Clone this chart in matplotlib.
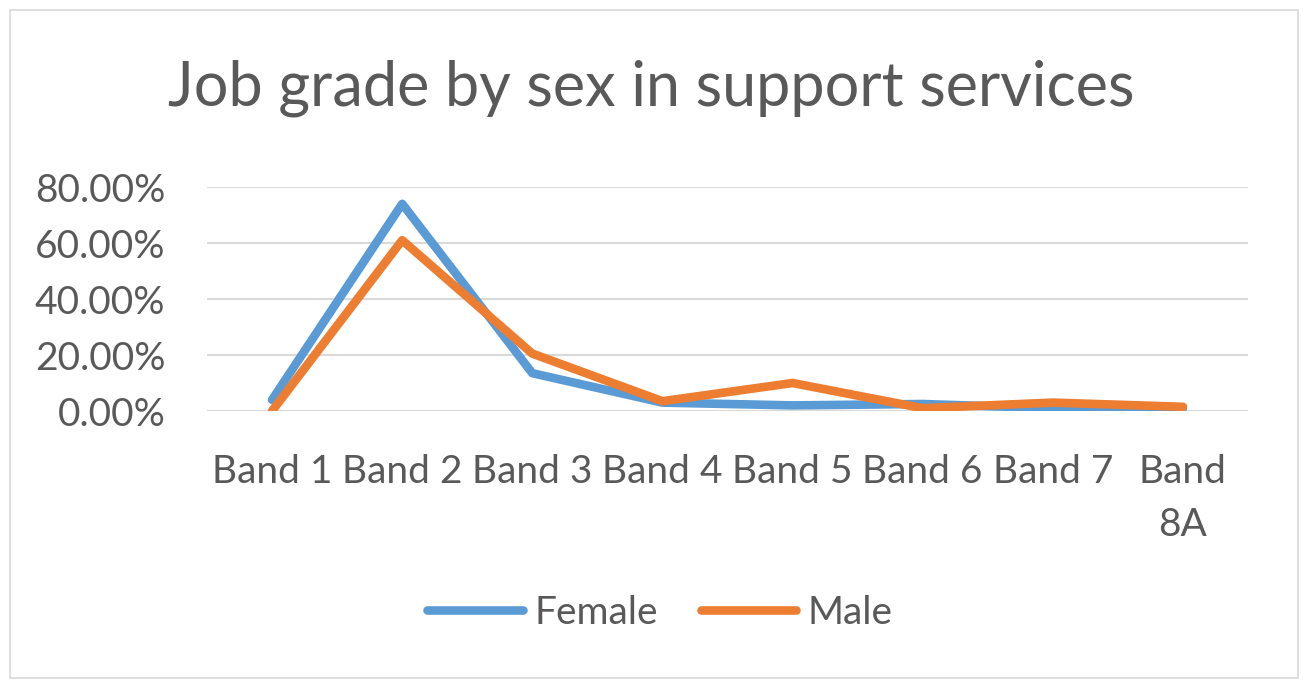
import matplotlib
matplotlib.use("Agg")
import matplotlib.pyplot as plt
from matplotlib.patches import Rectangle

categories = ["Band 1", "Band 2", "Band 3", "Band 4", "Band 5", "Band 6", "Band 7", "Band\n8A"]
female = [0.04, 0.74, 0.135, 0.03, 0.02, 0.025, 0.01, 0.01]
male = [0.0, 0.61, 0.205, 0.035, 0.10, 0.01, 0.03, 0.015]
yticks = [0.0, 0.2, 0.4, 0.6, 0.8]
ytick_labels = ["0.00%", "20.00%", "40.00%", "60.00%", "80.00%"]

plt.rcParams['font.family'] = ['Lato', 'DejaVu Sans']
W, H = 1303, 680
fig = plt.figure(figsize=(W / 100, H / 100), dpi=100)
fig.patches.append(Rectangle((10 / W, 2 / H), 1288 / W, 668 / H, transform=fig.transFigure,
                             fill=False, edgecolor='#D9D9D9', lw=1.2))

ax = fig.add_axes([207 / W, (H - 411) / H, (1248 - 207) / W, (411 - 187) / H])
x = list(range(len(categories)))
ax.plot(x, female, color='#5B9BD5', lw=6.2, solid_capstyle='round', solid_joinstyle='round', label='Female', zorder=3)
ax.plot(x, male, color='#ED7D31', lw=6.2, solid_capstyle='round', solid_joinstyle='round', label='Male', zorder=4)
ax.set_xlim(-0.5, len(categories) - 0.5)
ax.set_ylim(0, 0.8)
ax.set_yticks(yticks)
ax.set_yticklabels(ytick_labels)
ax.set_xticks(x)
ax.set_xticklabels(categories, linespacing=1.6)
ax.grid(axis='y', color='#D9D9D9', lw=1.5)
ax.set_axisbelow(True)
for s in ax.spines.values():
    s.set_visible(False)
ax.tick_params(axis='both', length=0, labelsize=28, colors='#595959')
ax.tick_params(axis='y', pad=30)
ax.tick_params(axis='x', pad=31)
for lab in ax.get_yticklabels():
    lab.set_horizontalalignment('right')

fig.text(0.5, (H - 88) / H, "Job grade by sex in support services", ha='center', va='center',
         fontsize=44, color='#595959')

leg = fig.legend(loc='center', bbox_to_anchor=(660 / W, (H - 613) / H), ncol=2, frameon=False,
                 fontsize=28, handlelength=2.45, columnspacing=1.1, handletextpad=0.3)
for t in leg.get_texts():
    t.set_color('#595959')

fig.savefig("out.png", dpi=100)
